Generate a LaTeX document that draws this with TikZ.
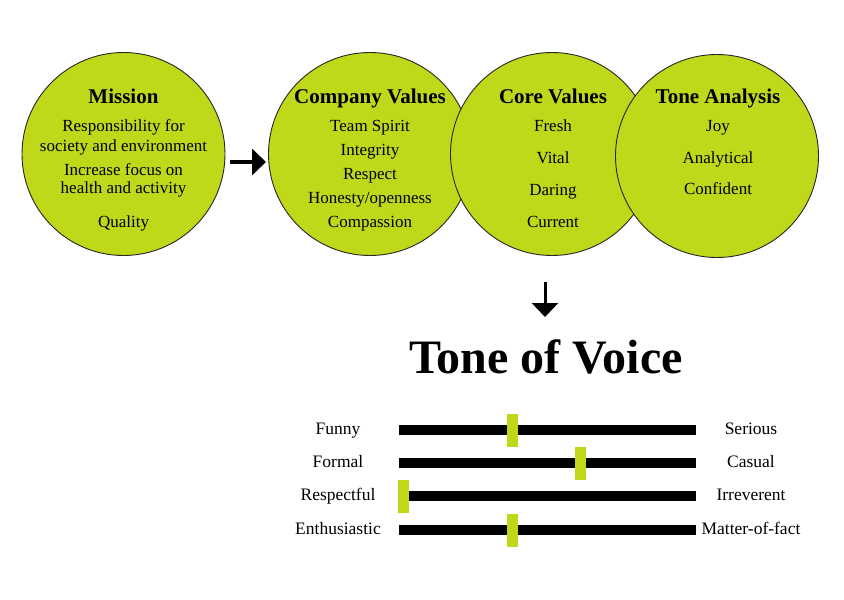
\documentclass[tikz,border=0pt]{standalone}
\usepackage{fontspec}
\setmainfont{Liberation Serif}
\usetikzlibrary{arrows.meta}
\definecolor{lime}{RGB}{191,216,26}
\begin{document}
\begin{tikzpicture}[x=1pt,y=-1pt,
  bubble/.style={circle,draw=black!85,line width=0.9pt,fill=lime,minimum size=203pt,inner sep=0pt},
  head/.style={font=\fontsize{21}{24}\selectfont\bfseries,inner sep=0pt,text height=14pt,text depth=0pt},
  txt/.style={font=\fontsize{17}{20}\selectfont,inner sep=0pt,text height=11.5pt,text depth=1pt},
  lbl/.style={font=\fontsize{17.5}{20}\selectfont,inner sep=0pt,text height=12pt,text depth=1pt},
  bar/.style={fill=black},
  marker/.style={fill=lime},
  arr/.style={line width=3.5pt,-{Triangle[length=14pt,width=26pt]}}]
\useasboundingbox (0,0) rectangle (844,600);
% circles
\node[bubble] (mission) at (123.5,154) {};
\node[bubble] (company) at (370,154) {};
\node[bubble] (core) at (552,154) {};
\node[bubble] (tone) at (717,156) {};
% mission texts
\node[head] (h1) at (123.5,96) {Mission};
\node[txt] (m1) at (123.5,126) {Responsibility for};
\node[txt] (m2) at (123.5,146) {society and environment};
\node[txt] (m3) at (123.5,170) {Increase focus on};
\node[txt] (m4) at (123.5,188) {health and activity};
\node[txt] (m5) at (123.5,222) {Quality};
% company values
\node[head] (h2) at (370,96) {Company Values};
\node[txt] (c1) at (370,126) {Team Spirit};
\node[txt] (c2) at (370,150) {Integrity};
\node[txt] (c3) at (370,174) {Respect};
\node[txt] (c4) at (370,198) {Honesty/openness};
\node[txt] (c5) at (370,222) {Compassion};
% core values
\node[head] (h3) at (553,96) {Core Values};
\node[txt] (v1) at (553,126) {Fresh};
\node[txt] (v2) at (553,158) {Vital};
\node[txt] (v3) at (553,190) {Daring};
\node[txt] (v4) at (553,222) {Current};
% tone analysis
\node[head] (h4) at (718,96) {Tone Analysis};
\node[txt] (t1) at (718,126) {Joy};
\node[txt] (t2) at (718,158) {Analytical};
\node[txt] (t3) at (718,189) {Confident};
% arrows
\coordinate (a1s) at (230,162);
\coordinate (a1e) at (266,162);
\draw[arr] (a1s) -- (a1e);
\coordinate (a2s) at (545,282);
\coordinate (a2e) at (545,317);
\draw[arr,line width=3pt] (a2s) -- (a2e);
% title
\node[font=\fontsize{48}{52}\selectfont\bfseries,inner sep=0pt] (title) at (546,357) {Tone of Voice};
% bars
\foreach \y/\m/\l/\r [count=\i] in {430/512/Funny/Serious,463/580/Formal/Casual,496/403/Respectful/Irreverent,530/512/Enthusiastic/Matter-of-fact}{
  \fill[bar] (399,\y-5) rectangle (696,\y+5);
  \fill[marker] (\m-5.5,\y-16) rectangle (\m+5.5,\y+17);
  \node[lbl] (L\i) at (338,\y-1) {\l};
  \node[lbl] (R\i) at (751,\y-1) {\r};
}
\end{tikzpicture}
\end{document}
